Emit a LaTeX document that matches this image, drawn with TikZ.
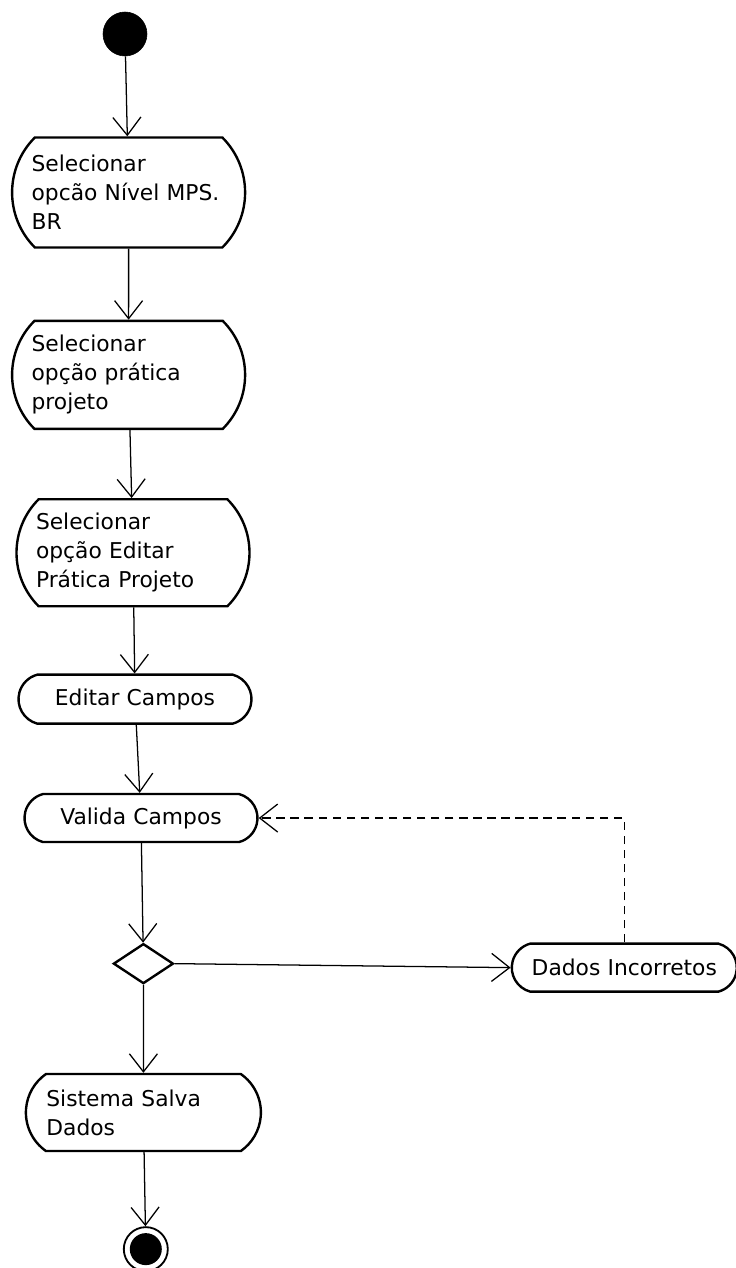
\documentclass[tikz,border=0pt]{standalone}
\usepackage{fontspec}
\setmainfont{DejaVu Sans}
\usepackage{tikz}
\usetikzlibrary{shapes.geometric, shapes.misc, arrows.meta, positioning}
\tikzset{
  % Activity diagram styles
  initial/.style={circle, fill=black, draw=black, minimum size=1.1cm, inner sep=0pt},
  final/.style={circle, draw=black, line width=1.3pt, fill=white, minimum size=1.1cm, inner sep=0pt,
    path picture={\fill[black] (path picture bounding box.center) circle (0.4cm);}},
  action/.style={rounded rectangle, rounded rectangle arc length=#1, draw=black, line width=1.7pt, fill=white,
    minimum width=5.825cm, minimum height=2.7cm, text width=4.85cm, align=left, inner xsep=0pt,
    font=\fontsize{15.5}{20.6}\selectfont},
  action/.default=90,
  shortaction/.style={action=150, minimum height=1.2cm, align=center},
  decision/.style={diamond, draw=black, line width=1.7pt, minimum width=1.5cm, minimum height=1.0cm, inner sep=0pt},
  arrow/.style={-{Straight Barb[length=4.5mm, width=7mm]}, line width=0.9pt},
  dasharrow/.style={arrow, dash pattern=on 6pt off 4pt},
}
\begin{document}
\begin{tikzpicture}
    \useasboundingbox (0,0) rectangle (18.4,-31.7);

    % Start
    \node[initial] (start) at (3.125,-0.85) {};

    % Nivel MPS.BR
    \node[action, minimum height=2.75cm, below=2.0cm of start, xshift=0.09cm] (nivel) {Selecionar\\opcão Nível MPS.\\BR};

    % Pratica projeto
    \node[action, below=1.775cm of nivel] (pratica) {Selecionar\\opção prática\\projeto};

    % Editar pratica
    \node[action, minimum height=2.675cm, below=1.7cm of pratica, xshift=0.11cm] (editpratica) {Selecionar\\opção Editar\\Prática Projeto};

    % Editar campos
    \node[shortaction, minimum height=1.225cm, below=1.65cm of editpratica, xshift=0.05cm] (editar) {Editar Campos};

    % Valida campos
    \node[shortaction, below=1.7cm of editar, xshift=0.15cm] (valida) {Valida Campos};

    % Decision
    \node[decision, below=2.48cm of valida, xshift=0.06cm] (dec) {};

    % Dados incorretos
    \node[shortaction, minimum width=5.625cm, right=8.4cm of dec, yshift=-0.1cm] (incorretos) {Dados Incorretos};

    % Salva dados
    \node[action=110, minimum height=1.925cm, minimum width=5.875cm, below=2.2cm of dec] (salva) {Sistema Salva\\Dados};

    % End
    \node[final, below=1.85cm of salva, xshift=0.06cm] (end) {};

% === Arrows ===
    \draw[arrow] (start) -- (nivel);
    \draw[arrow] (nivel) -- (pratica);
    \draw[arrow] (pratica) -- (editpratica);
    \draw[arrow] (editpratica) -- (editar);
    \draw[arrow] (editar) -- (valida);
    \draw[arrow] (valida) -- (dec);
    \draw[arrow] (dec.east) -- (incorretos.west);
    \draw[dasharrow] (incorretos.north) |- (valida.east);
    \draw[arrow] (dec) -- (salva);
    \draw[arrow] (salva) -- (end);
\end{tikzpicture}
\end{document}
